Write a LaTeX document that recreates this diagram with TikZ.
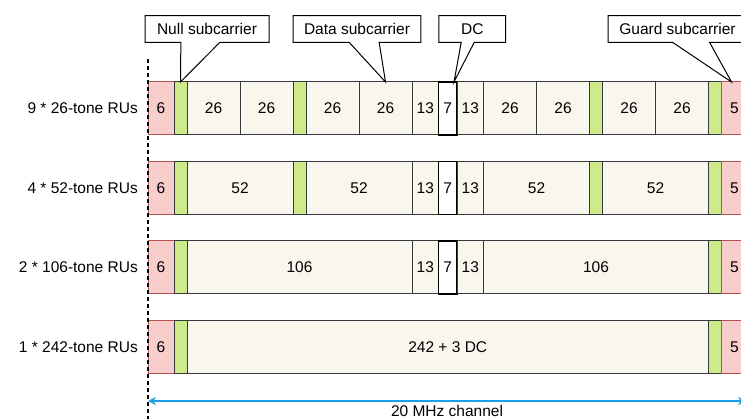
\documentclass[tikz,border=0pt]{standalone}
\usepackage{fontspec}
\setmainfont{Liberation Sans}
\usetikzlibrary{positioning,shapes.callouts,arrows.meta}

\definecolor{guardfill}{HTML}{F8CECC}
\definecolor{guardline}{HTML}{B85450}
\definecolor{nullfill}{HTML}{CDEB8B}
\definecolor{cellline}{HTML}{36393D}
\definecolor{rufill}{HTML}{F9F7ED}
\definecolor{chanblue}{HTML}{1BA1E2}

\tikzset{
 txt/.style={font=\fontsize{15.5}{18}\selectfont},
 cell/.style={txt, draw=cellline, line width=1pt, minimum height=53pt, inner sep=0pt, outer sep=0pt},
 guardcell/.style={cell, draw=guardline, fill=guardfill},
 nullcell/.style={cell, fill=nullfill},
 rucell/.style={cell, fill=rufill},
 dccell/.style={cell, draw=black, line width=1.4pt, fill=white},
 rowlabel/.style={txt, inner sep=0pt},
 note/.style={txt, rectangle callout, draw=black, fill=white, line width=1pt, minimum height=26.6pt, inner sep=0pt},
}

\begin{document}
\begin{tikzpicture}[x=1pt, y=-1pt]
 \useasboundingbox (0,0) rectangle (741,419);

 % 9 * 26-tone RUs
 \coordinate (r1c0) at (148,108.5);
 \foreach \st/\w/\t [count=\i, remember=\i as \j (initially 0)] in
  {guardcell/26/6, nullcell/13/{}, rucell/53/26, rucell/53/26, nullcell/13/{}, rucell/53/26, rucell/53/26,
   rucell/26.5/13, dccell/18.5/7, rucell/26.5/13, rucell/53/26, rucell/53/26, nullcell/13/{},
   rucell/53/26, rucell/53/26, nullcell/13/{}, guardcell/26/5}
  \node[\st, minimum width=\w pt, right=0pt of r1c\j] (r1c\i) {\t};

 % 4 * 52-tone RUs
 \coordinate (r2c0) at (148,188);
 \foreach \st/\w/\t [count=\i, remember=\i as \j (initially 0)] in
  {guardcell/26/6, nullcell/13/{}, rucell/106/52, nullcell/13/{}, rucell/106/52,
   rucell/26.5/13, dccell/18.5/7, rucell/26.5/13, rucell/106/52, nullcell/13/{},
   rucell/106/52, nullcell/13/{}, guardcell/26/5}
  \node[\st, minimum width=\w pt, right=0pt of r2c\j] (r2c\i) {\t};

 % 2 * 106-tone RUs
 \coordinate (r3c0) at (148,267.5);
 \foreach \st/\w/\t [count=\i, remember=\i as \j (initially 0)] in
  {guardcell/26/6, nullcell/13/{}, rucell/225/106, rucell/26.5/13, dccell/18.5/7,
   rucell/26.5/13, rucell/225/106, nullcell/13/{}, guardcell/26/5}
  \node[\st, minimum width=\w pt, right=0pt of r3c\j] (r3c\i) {\t};

 % 1 * 242-tone RUs
 \coordinate (r4c0) at (148,347);
 \foreach \st/\w/\t [count=\i, remember=\i as \j (initially 0)] in
  {guardcell/26/6, nullcell/13/{}, rucell/521.5/242 + 3 DC, nullcell/13/{}, guardcell/26/5}
  \node[\st, minimum width=\w pt, right=0pt of r4c\j] (r4c\i) {\t};

 % row labels
 \node[rowlabel, left=10pt of r1c1] (lab1) {9 * 26-tone RUs};
 \node[rowlabel, left=10pt of r2c1] (lab2) {4 * 52-tone RUs};
 \node[rowlabel, left=10pt of r3c1] (lab3) {2 * 106-tone RUs};
 \node[rowlabel, left=10pt of r4c1] (lab4) {1 * 242-tone RUs};

 % channel edge
 \coordinate (edgetop) at (148,59);
 \coordinate (edgebot) at (148,419);
 \draw[line width=1.2pt, dash pattern=on 4pt off 3pt] (edgetop) -- (edgebot);

 % callouts
 \node[note, minimum width=124pt, callout pointer width=39pt,
  callout absolute pointer={(r1c2.north)}] (nullnote) at (207,29) {Null subcarrier};
 \node[note, minimum width=127.7pt, callout pointer width=30pt,
  callout absolute pointer={(r1c7.north)}] (datanote) at (357,29) {Data subcarrier};
 \node[note, minimum width=66.7pt, callout pointer width=13pt,
  callout absolute pointer={([xshift=-3pt]r1c9.north east)}] (dcnote) at (472.3,29) {DC};
 \node[note, minimum width=139pt, callout pointer width=37pt,
  callout absolute pointer={([xshift=-3pt]r1c17.north)}] (guardnote) at (677.5,29) {Guard subcarrier};

 % 20 MHz channel
 \coordinate (chleft) at (148,401);
 \coordinate (chright) at (746,401);
 \draw[chanblue, line width=1.2pt, {Stealth[length=8pt,width=8pt]}-{Stealth[length=8pt,width=8pt]}]
  (chleft) -- (chright) node[midway, below=4pt, txt, black, inner sep=0pt] (chlabel) {20 MHz channel};
\end{tikzpicture}
\end{document}
